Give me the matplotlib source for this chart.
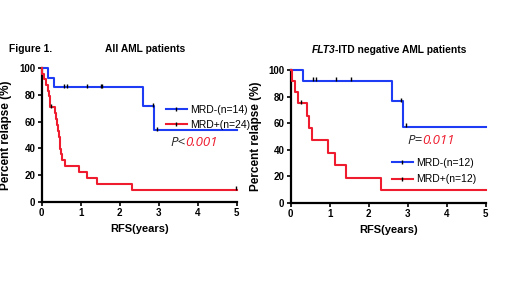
import matplotlib
matplotlib.use("Agg")
import matplotlib.pyplot as plt
from matplotlib.lines import Line2D

plt.rcParams['font.family'] = ['Liberation Sans', 'DejaVu Sans']

# ---------------- data ----------------
# Left panel: All AML patients
left_neg_t = [0, 0.17, 0.32, 2.59, 2.88, 5]
left_neg_s = [100, 92.9, 85.7, 71.4, 53.6, 53.6]
left_neg_ct = [0.58, 0.65, 1.15, 1.52, 1.55, 2.85, 2.95]
left_neg_cs = [85.7, 85.7, 85.7, 85.7, 85.7, 71.4, 53.6]

left_pos_t = [0, 0.02, 0.05, 0.12, 0.15, 0.18, 0.20, 0.22, 0.33, 0.36, 0.39, 0.42,
              0.44, 0.46, 0.48, 0.50, 0.53, 0.60, 0.95, 1.15, 1.42, 2.32, 5]
left_pos_s = [100, 95.8, 91.7, 87.5, 83.3, 79.2, 75.0, 70.8, 66.4, 62.0, 57.5, 53.1,
              48.7, 44.3, 39.8, 35.4, 31.0, 26.6, 22.1, 17.7, 13.3, 8.85, 8.85]
left_pos_ct = [0.25, 4.97]
left_pos_cs = [70.8, 8.85]

# Right panel: FLT3-ITD negative AML patients
right_neg_t = [0, 0.32, 2.59, 2.88, 5]
right_neg_s = [100, 91.7, 76.5, 57.3, 57.3]
right_neg_ct = [0.57, 0.64, 1.15, 1.55, 2.84, 2.95]
right_neg_cs = [91.7, 91.7, 91.7, 91.7, 76.5, 57.3]

right_pos_t = [0, 0.03, 0.12, 0.19, 0.42, 0.48, 0.55, 0.95, 1.14, 1.42, 2.32, 5]
right_pos_s = [100, 91.7, 83.3, 75.0, 65.6, 56.2, 46.9, 37.5, 28.1, 18.8, 9.4, 9.4]
right_pos_ct = [0.26]
right_pos_cs = [75.0]

left_labels = ["MRD-(n=14)", "MRD+(n=24)"]
right_labels = ["MRD-(n=12)", "MRD+(n=12)"]
x_ticks = [0, 1, 2, 3, 4, 5]
y_ticks = [0, 20, 40, 60, 80, 100]

BLUE = "#1f3cf5"
RED = "#ee1c2e"

W, H = 520, 283
fig = plt.figure(figsize=(W / 100, H / 100), dpi=100)


def fx(px):
    return px / W


def fy(py):
    return 1 - py / H


def make_ax(x0, x1, ytop, ybot):
    return fig.add_axes([fx(x0), fy(ybot), fx(x1 - x0), (ybot - ytop) / H])


def style(ax):
    ax.set_xlim(0, 5)
    ax.set_ylim(0, 100)
    for s in ['top', 'right']:
        ax.spines[s].set_visible(False)
    for s in ['left', 'bottom']:
        ax.spines[s].set_linewidth(1.6)
    ax.set_xticks(x_ticks)
    ax.set_yticks(y_ticks)
    ax.tick_params(width=1.2, length=3, labelsize=7, pad=1.5)
    for lab in ax.get_xticklabels() + ax.get_yticklabels():
        lab.set_fontweight('bold')
    ax.set_xlabel("RFS(years)", fontsize=8, fontweight='bold')
    ax.set_ylabel("Percent relapse (%)", fontsize=8.5, fontweight='bold')
    ax.patch.set_alpha(0)


def draw(ax, t, s, ct, cs, color):
    ax.step(t, s, where='post', color=color, lw=1.5, clip_on=False, zorder=3)
    ax.plot(ct, [v + 1.2 for v in cs], linestyle='none', marker='|', color='black',
            ms=3, mew=1.0, clip_on=False, zorder=4)


def handles(labels):
    return [Line2D([0], [0], color=c, lw=1.5, marker='|', ms=3, mew=1.0,
                   mec='black', mfc='black') for c in (BLUE, RED)]


def two_part(xpx, ypx, a, b, kw_a, kw_b, ha='left'):
    t1 = fig.text(fx(xpx), fy(ypx), a, va='center', **kw_a)
    fig.canvas.draw()
    bb = t1.get_window_extent()
    t2 = fig.text(bb.x1 / W, fy(ypx), b, va='center', **kw_b)
    if ha == 'center':
        fig.canvas.draw()
        bb2 = t2.get_window_extent()
        total = bb2.x1 - bb.x0
        shift = total / 2
        t1.set_x(fx(xpx - shift))
        t2.set_x((bb.x1 - shift) / W)


# Left panel
axL = make_ax(41.7, 236.7, 68.3, 201.7)
style(axL)
draw(axL, left_neg_t, left_neg_s, left_neg_ct, left_neg_cs, BLUE)
draw(axL, left_pos_t, left_pos_s, left_pos_ct, left_pos_cs, RED)
axL.yaxis.set_label_coords(-0.152, 0.5)
axL.xaxis.set_label_coords(0.5, -0.17)
axL.legend(handles(left_labels), left_labels, loc='upper left',
           bbox_to_anchor=(fx(166), fy(105)), bbox_transform=fig.transFigure,
           frameon=False, fontsize=7.5, handlelength=2.0, handletextpad=0.35,
           borderpad=0, borderaxespad=0, labelspacing=0.45, numpoints=1)

# Right panel
axR = make_ax(290.7, 485.7, 70, 202.7)
style(axR)
draw(axR, right_neg_t, right_neg_s, right_neg_ct, right_neg_cs, BLUE)
draw(axR, right_pos_t, right_pos_s, right_pos_ct, right_pos_cs, RED)
axR.yaxis.set_label_coords(-0.147, 0.5)
axR.xaxis.set_label_coords(0.5, -0.17)
axR.legend(handles(right_labels), right_labels, loc='upper left',
           bbox_to_anchor=(fx(392), fy(158)), bbox_transform=fig.transFigure,
           frameon=False, fontsize=7.5, handlelength=2.0, handletextpad=0.35,
           borderpad=0, borderaxespad=0, labelspacing=0.6, numpoints=1)

# Titles
fig.text(fx(9), fy(49), "Figure 1.", fontsize=7.4, fontweight='bold', va='center')
fig.text(fx(145), fy(49), "All AML patients", fontsize=7.4, fontweight='bold',
         va='center', ha='center')
two_part(389, 50, "FLT3", "-ITD negative AML patients",
         dict(fontsize=7.4, fontweight='bold', style='italic'),
         dict(fontsize=7.4, fontweight='bold'), ha='center')

pkw_black = dict(fontsize=9.5, style='italic', family='Open Sans', color='#222222')
pkw_red = dict(fontsize=9.5, style='italic', family='Open Sans', color=RED)
two_part(170, 143, "P<", "0.001", pkw_black, pkw_red)
two_part(407, 140, "P=", "0.011", pkw_black, pkw_red)

fig.savefig("out.png", dpi=100)
